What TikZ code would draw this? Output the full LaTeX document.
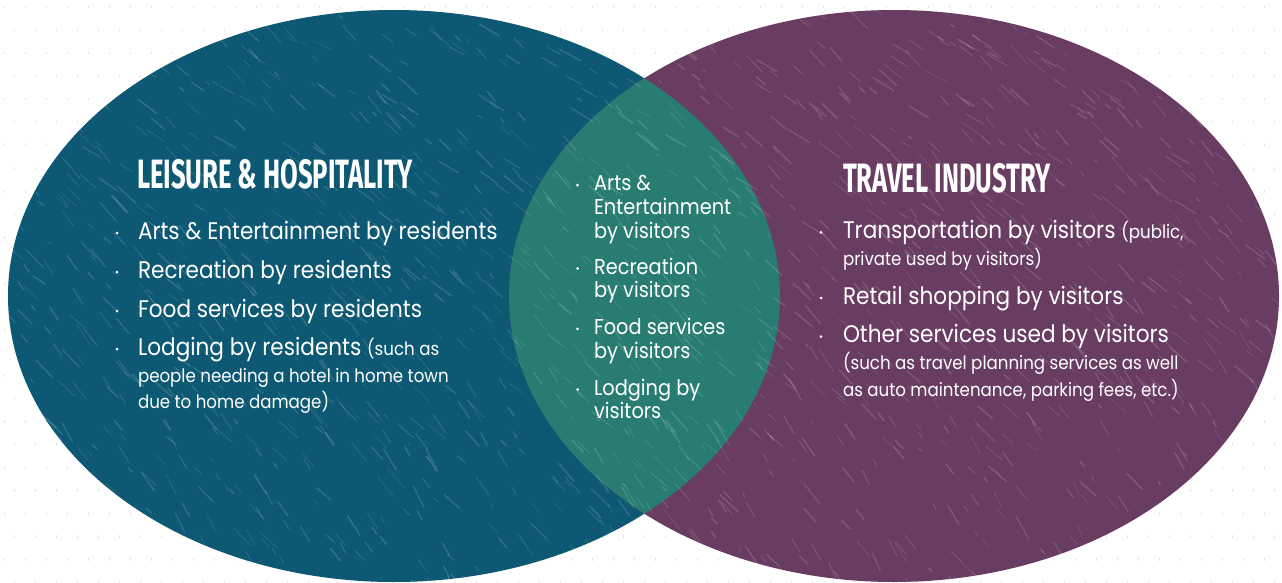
\documentclass[tikz,border=0pt]{standalone}
\usepackage{fontspec}
\newfontfamily\bodyfont[FakeStretch=0.9]{Poppins}
\newfontfamily\titlefont[FakeStretch=0.625]{Fira Sans}
\definecolor{leftc}{HTML}{0D5873}
\definecolor{rightc}{HTML}{693C61}
\definecolor{midc}{HTML}{287C71}
\tikzset{
  txt/.style={anchor=base west, inner sep=0pt, outer sep=0pt, text=white},
  mainsz/.style={txt, font=\bodyfont\fontsize{24}{28}\selectfont},
  midsz/.style={txt, font=\bodyfont\fontsize{21.5}{25}\selectfont},
  smallsz/.style={txt, font=\bodyfont\fontsize{18.5}{22}\selectfont},
  ttl/.style={txt, font=\titlefont\bfseries\fontsize{41}{44}\selectfont},
  bul/.style={fill=white, circle, inner sep=0pt, minimum size=3pt},
  streak/.style={white, opacity=0.15, line cap=round},
  bgdot/.style={gray!22, line width=1pt}
}
\newcommand{\sm}[1]{{\fontsize{18.5}{22}\selectfont #1}}
\begin{document}
\begin{tikzpicture}[x=1pt,y=-1pt]
\useasboundingbox (0,0) rectangle (1282,583);
\fill[white] (0,0) rectangle (1282,583);
% background dots
\foreach \gx in {0,...,60}{
  \foreach \gy in {0,...,25}{
    \pgfmathsetmacro{\ox}{mod(\gy,2)*10}
    \draw[bgdot] ({\gx*21+\ox+4},{\gy*23+6}) -- ++(0,2.5);
  }
}
% ellipses
\fill[leftc] (394,296) ellipse [x radius=386, y radius=286];
\fill[rightc] (894,296) ellipse [x radius=385, y radius=286];
\begin{scope}
  \clip (394,296) ellipse [x radius=386, y radius=286];
  \fill[midc] (894,296) ellipse [x radius=385, y radius=286];
\end{scope}
% texture
\begin{scope}
  \clip (394,296) ellipse [x radius=386, y radius=286] (894,296) ellipse [x radius=385, y radius=286];
  \pgfmathsetseed{7}
  \foreach \i in {1,...,1500}{
    \pgfmathsetmacro{\px}{rnd*1282}
    \pgfmathsetmacro{\py}{rnd*583}
    \pgfmathsetmacro{\ang}{25+rnd*25+\py*0.03}
    \pgfmathsetmacro{\len}{4+rnd*22}
    \pgfmathsetmacro{\lw}{0.4+rnd*1.1}
    \draw[streak, line width=\lw pt] (\px,\py) -- ++(\ang:\len);
  }
\end{scope}
% left circle text
\node[ttl] (lt) at (137,188) {LEISURE \& HOSPITALITY};
\node[mainsz] (l1) at (138,239) {Arts \& Entertainment by residents};
\node[mainsz] (l2) at (138,278) {Recreation by residents};
\node[mainsz] (l3) at (138,317) {Food services by residents};
\node[mainsz] (l4) at (138,355) {Lodging by residents \sm{(such as}};
\node[smallsz] (l4b) at (138,382) {people needing a hotel in home town};
\node[smallsz] (l4c) at (138,408.5) {due to home damage)};
\foreach \n/\yy in {b1/239,b2/278,b3/317,b4/355}{
  \node[bul] (\n) at (117,\yy-6) {};
}
% middle text
\node[midsz] (m1) at (594,190.7) {Arts \&};
\node[midsz] (m1b) at (594,214.3) {Entertainment};
\node[midsz] (m1c) at (594,238) {by visitors};
\node[midsz] (m2) at (594,274) {Recreation};
\node[midsz] (m2b) at (594,297.7) {by visitors};
\node[midsz] (m3) at (594,334.3) {Food services};
\node[midsz] (m3b) at (594,358) {by visitors};
\node[midsz] (m4) at (594,395) {Lodging by};
\node[midsz] (m4b) at (594,418.7) {visitors};
\foreach \n/\yy in {mb1/190.7,mb2/274,mb3/334.3,mb4/395}{
  \node[bul] (\n) at (577.5,\yy-5.5) {};
}
% right circle text
\node[ttl] (rt) at (843,192) {TRAVEL INDUSTRY};
\node[mainsz] (r1) at (843,238.3) {Transportation by visitors \sm{(public,}};
\node[smallsz] (r1b) at (843,265) {private used by visitors)};
\node[mainsz] (r2) at (843,304) {Retail shopping by visitors};
\node[mainsz] (r3) at (843,342.7) {Other services used by visitors};
\node[smallsz] (r3b) at (843,369.3) {(such as travel planning services as well};
\node[smallsz] (r3c) at (843,396.7) {as auto maintenance, parking fees, etc.)};
\foreach \n/\yy in {rb1/238.3,rb2/304,rb3/342.7}{
  \node[bul] (\n) at (821,\yy-6) {};
}
\end{tikzpicture}
\end{document}
